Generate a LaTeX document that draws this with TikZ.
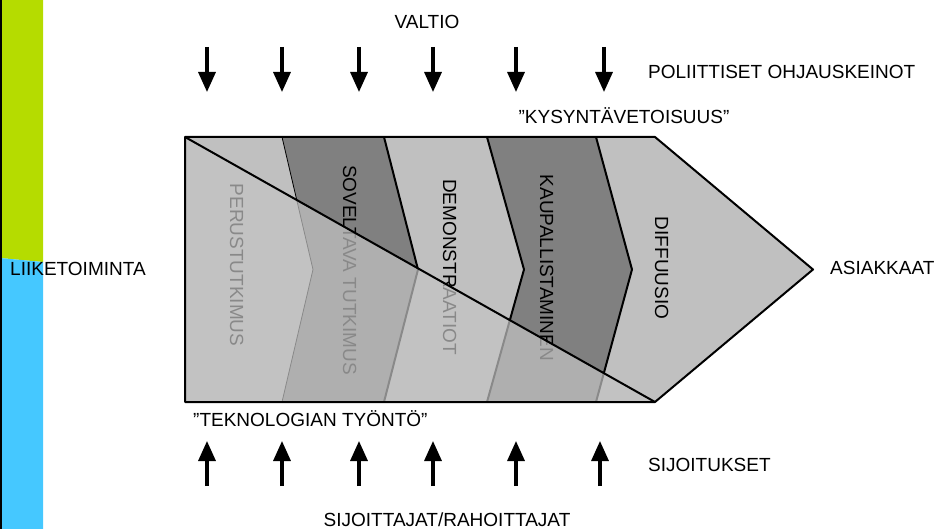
\documentclass[tikz,border=0pt]{standalone}
\usepackage{fontspec}
\setmainfont{Liberation Sans}
\usetikzlibrary{arrows.meta}
\definecolor{barGreen}{HTML}{B5DC00}
\definecolor{barBlue}{HTML}{45C8FF}
\definecolor{bandLight}{HTML}{C0C0C0}
\definecolor{bandDark}{HTML}{808080}
\definecolor{veil}{HTML}{C4C4C4}
\begin{document}
\begin{tikzpicture}[x=1pt,y=-1pt,
  lbl/.style={inner sep=0pt, font=\fontsize{19}{19}\selectfont, text height=13.6pt, text depth=0pt},
  phase/.style={lbl, rotate=-90},
  flow/.style={line width=3.3pt, -{Triangle[width=17pt,length=20pt]}},
  edge/.style={line width=2pt, line join=round},
  thinedge/.style={line width=0.8pt},
]
\useasboundingbox (0,0) rectangle (940,529);

% side bar
\fill[barGreen] (0,0) -- (43,0) -- (43,262) -- (0,258) -- cycle;
\fill[barBlue] (0,258) -- (43,262) -- (43,529) -- (0,529) -- cycle;
\fill[black] (0,0) rectangle (1.5,529);

% corners of the process arrow and its chevron bands
\coordinate (t0) at (185,137);
\coordinate (t1) at (282,137);
\coordinate (t2) at (384,137);
\coordinate (t3) at (487,137);
\coordinate (t4) at (596,137);
\coordinate (t5) at (655,137);
\coordinate (m1) at (313,269.5);
\coordinate (m2) at (418,269.5);
\coordinate (m3) at (524,269.5);
\coordinate (m4) at (632,269.5);
\coordinate (tip) at (813,269.5);
\coordinate (b0) at (185,402);
\coordinate (b1) at (282,402);
\coordinate (b2) at (384,402);
\coordinate (b3) at (487,402);
\coordinate (b4) at (596,402);
\coordinate (b5) at (655,402);

% bands
\fill[bandLight] (t0) -- (t1) -- (m1) -- (b1) -- (b0) -- cycle;
\fill[bandDark]  (t1) -- (t2) -- (m2) -- (b2) -- (b1) -- (m1) -- cycle;
\fill[bandLight] (t2) -- (t3) -- (m3) -- (b3) -- (b2) -- (m2) -- cycle;
\fill[bandDark]  (t3) -- (t4) -- (m4) -- (b4) -- (b3) -- (m3) -- cycle;
\fill[bandLight] (t4) -- (t5) -- (tip) -- (b5) -- (b4) -- (m4) -- cycle;
\draw[thinedge] (t1) -- (m1) -- (b1);
\draw[edge] (t2) -- (m2) -- (b2);
\draw[edge] (t3) -- (m3) -- (b3);
\draw[edge] (t4) -- (m4) -- (b4);

% phase names
\node[phase] (perus) at (237,265) {PERUSTUTKIMUS};
\node[phase] (sovel) at (350,270) {SOVELTAVA TUTKIMUS};
\node[phase] (demo)  at (450,267) {DEMONSTRAATIOT};
\node[phase] (kaup)  at (547,268) {KAUPALLISTAMINEN};
\node[phase] (diff)  at (662,268) {DIFFUUSIO};

% lower triangle veil and the diagonal
\fill[veil, opacity=0.7] (t0) -- (b5) -- (b0) -- cycle;
\draw[edge] (t0) -- (b5);
\draw[edge] (t0) -- (t5) -- (tip) -- (b5) -- (b0) -- cycle;

% labels
\node[lbl] (valtio) at (427,22) {VALTIO};
\node[lbl, anchor=west] (pol) at (648,72) {POLIITTISET OHJAUSKEINOT};
\node[lbl] (kys) at (624,117) {”KYSYNTÄVETOISUUS”};
\node[lbl, anchor=west] (liike) at (10,269) {LIIKETOIMINTA};
\node[lbl, anchor=west] (asiak) at (830,268) {ASIAKKAAT};
\node[lbl, anchor=west] (tekno) at (193,420) {”TEKNOLOGIAN TYÖNTÖ”};
\node[lbl, anchor=west] (sijo) at (648,465) {SIJOITUKSET};
\node[lbl] (rahoit) at (447,520) {SIJOITTAJAT/RAHOITTAJAT};

% policy arrows (down) and investment arrows (up)
\foreach \i/\x in {1/207,2/282,3/359,4/433,5/516,6/604}{
  \coordinate (dn\i) at (\x,47);
  \coordinate (dn\i-end) at (\x,92);
  \draw[flow] (dn\i) -- (dn\i-end);
}
\foreach \i/\x in {1/207,2/282,3/359,4/433,5/516,6/600}{
  \coordinate (up\i) at (\x,486);
  \coordinate (up\i-end) at (\x,441);
  \draw[flow] (up\i) -- (up\i-end);
}
\end{tikzpicture}
\end{document}
